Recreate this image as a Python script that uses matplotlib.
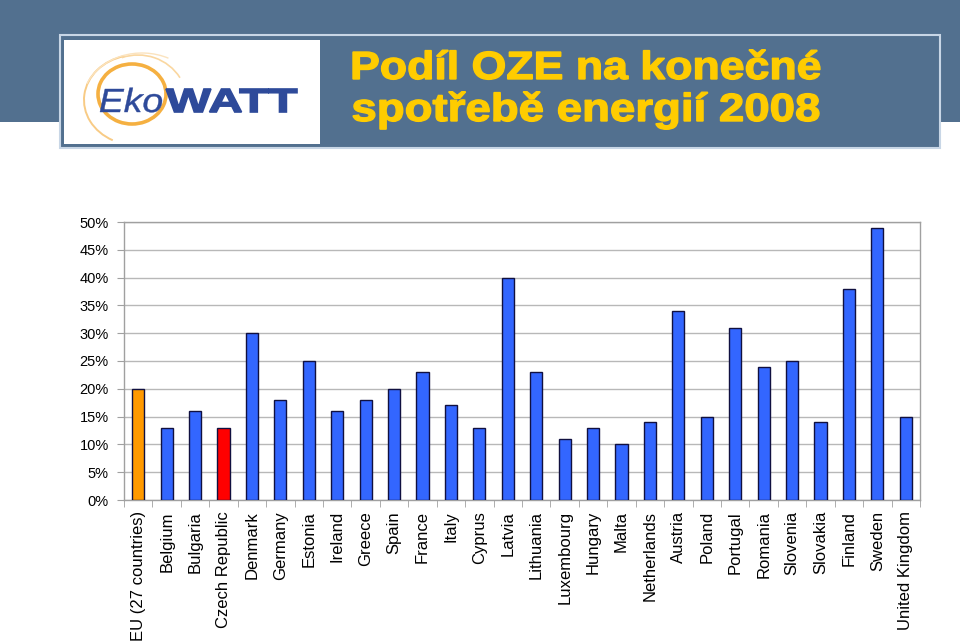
import matplotlib
matplotlib.use("Agg")
import matplotlib.pyplot as plt
from matplotlib.patches import Rectangle, Arc, PathPatch
from matplotlib.textpath import TextPath
from matplotlib.font_manager import FontProperties
from matplotlib.transforms import Affine2D
from matplotlib.ticker import FuncFormatter, MultipleLocator, FixedLocator
import numpy as np

countries = ["EU (27 countries)", "Belgium", "Bulgaria", "Czech Republic", "Denmark",
             "Germany", "Estonia", "Ireland", "Greece", "Spain", "France", "Italy",
             "Cyprus", "Latvia", "Lithuania", "Luxembourg", "Hungary", "Malta",
             "Netherlands", "Austria", "Poland", "Portugal", "Romania", "Slovenia",
             "Slovakia", "Finland", "Sweden", "United Kingdom"]
shares = [20, 13, 16, 13, 30, 18, 25, 16, 18, 20, 23, 17, 13, 40, 23, 11, 13, 10,
          14, 34, 15, 31, 24, 25, 14, 38, 49, 15]
title_lines = ["Podíl OZE na konečné", "spotřebě energií 2008"]
logo_parts = ["Eko", "WATT"]

colors = ["#3366FF"] * len(countries)
colors[0] = "#FF9900"
colors[3] = "#FF0000"

W, H = 960, 642
fig = plt.figure(figsize=(9.6, 6.42), dpi=100)

bg = fig.add_axes([0, 0, 1, 1], zorder=0)
bg.set_xlim(0, W); bg.set_ylim(H, 0); bg.axis("off")


def fitted_text(ax, s, x0, x1, baseline, cap_h, prop, color, stroke=0.0, z=5):
    tp = TextPath((0, 0), s, size=1, prop=prop)
    capref = TextPath((0, 0), "E", size=1, prop=prop).get_extents()
    ext = tp.get_extents()
    sx = (x1 - x0) / ext.width
    sy = cap_h / capref.y1
    tr = Affine2D().translate(-ext.x0, 0).scale(sx, -sy).translate(x0, baseline)
    ax.add_patch(PathPatch(tr.transform_path(tp), facecolor=color,
                           edgecolor=color if stroke > 0 else "none",
                           lw=stroke, zorder=z))


# header
bg.add_patch(Rectangle((0, 0), W, 122, color="#52708F", lw=0))
bg.add_patch(Rectangle((60, 35), 880, 113, facecolor="#52708F", edgecolor="#C8D6E6", lw=1.5))
bg.add_patch(Rectangle((64, 40), 256, 104, facecolor="white", edgecolor="none"))
# logo arcs
bg.add_patch(Arc((132, 94), 68, 60, theta1=0, theta2=360, color="#F5B041", lw=2.6, zorder=3))
bg.add_patch(Arc((136, 100), 104, 90, theta1=120, theta2=255, color="#F8CB85", lw=1.4, zorder=3))
bg.add_patch(Arc((138, 102), 98, 94, theta1=250, theta2=330, color="#FAD7A0", lw=1.2, zorder=3))
bg.add_patch(Arc((142, 104), 120, 102, theta1=200, theta2=300, color="#FBE3BE", lw=1.0, zorder=3))
fitted_text(bg, logo_parts[0], 100, 162, 112, 23,
            FontProperties(family="Liberation Sans", style="italic"), "#2E4A9A", stroke=0.3)
fitted_text(bg, logo_parts[1], 166, 297, 112, 23,
            FontProperties(family="Liberation Sans", weight="bold"), "#2E4A9A", stroke=1.2)
# title
tprop = FontProperties(family="Liberation Sans", weight="bold")
fitted_text(bg, title_lines[0], 353, 820, 79, 27, tprop, "#FFCC00", stroke=1.0)
fitted_text(bg, title_lines[1], 353, 819, 121, 27, tprop, "#FFCC00", stroke=1.0)

# chart
ax = fig.add_axes([124 / W, 1 - 500 / H, (920 - 124) / W, (500 - 222) / H], zorder=1)
x = np.arange(len(countries))
ax.bar(x, shares, width=0.43, color=colors, edgecolor="#101040", linewidth=1.0, zorder=3)
ax.set_xlim(-0.5, len(countries) - 0.5)
ax.set_ylim(0, 50)
ax.yaxis.set_major_locator(MultipleLocator(5))
ax.yaxis.set_major_formatter(FuncFormatter(lambda v, p: f"{v:.0f}%"))
ax.grid(axis="y", color="#B8B8B8", lw=1.0, zorder=0)
ax.set_xticks(x)
ax.set_xticklabels(countries, rotation=90, fontsize=12, family="Liberation Sans")
ax.tick_params(axis="x", length=0, pad=8)
ax.xaxis.set_minor_locator(FixedLocator(np.arange(-0.5, len(countries), 1.0)))
ax.tick_params(axis="x", which="minor", length=5, color="#A0A0A0", direction="out")
ax.tick_params(axis="y", length=5, color="#A0A0A0", labelsize=10.5, pad=6)
for lab in ax.get_yticklabels():
    lab.set_family("Liberation Sans")
for s in ax.spines.values():
    s.set_color("#A0A0A0")
    s.set_linewidth(1.0)

fig.savefig("out.png", dpi=100)
